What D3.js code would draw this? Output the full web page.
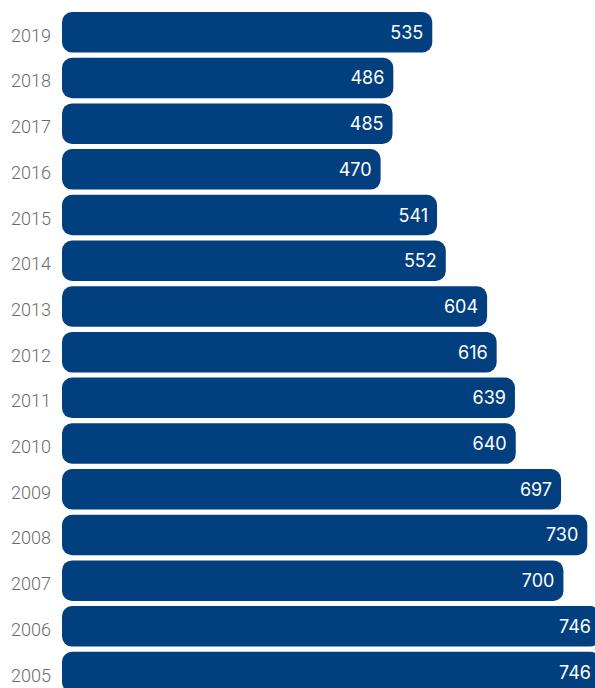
<!DOCTYPE html>
<html>
<head>
<meta charset="utf-8">
<script src="https://cdn.jsdelivr.net/npm/d3@7"></script>
<style>
  html, body { margin: 0; padding: 0; background: #fff; }
  svg { display: block; }
</style>
</head>
<body>
<svg id="chart" width="595" height="688"></svg>
<script>
// Yearly totals, newest first
const years = ["2019","2018","2017","2016","2015","2014","2013","2012","2011","2010","2009","2008","2007","2006","2005"];
const values = [535, 486, 485, 470, 541, 552, 604, 616, 639, 640, 697, 730, 700, 746, 746];

const width = 595, height = 688;
const barLeft = 62;

const svg = d3.select("#chart");

const x = d3.scaleLinear()
  .domain([0, d3.max(values)])
  .range([7, 600]);

const y = d3.scaleBand()
  .domain(years)
  .range([12, 692.3])
  .paddingInner(0.114)
  .paddingOuter(0);

const data = years.map((yr, i) => ({ year: yr, value: values[i] }));

// Rounded bars
svg.append("g")
  .selectAll("rect")
  .data(data)
  .join("rect")
  .attr("x", barLeft)
  .attr("y", d => y(d.year))
  .attr("width", d => x(d.value) - barLeft)
  .attr("height", y.bandwidth())
  .attr("rx", 10)
  .attr("ry", 10)
  .attr("fill", "#023f7f");

// Value labels inside bar ends
svg.append("g")
  .selectAll("text")
  .data(data)
  .join("text")
  .attr("x", d => x(d.value) - 9)
  .attr("y", d => y(d.year) + y.bandwidth() / 2)
  .attr("dy", "0.36em")
  .attr("text-anchor", "end")
  .attr("fill", "#fff")
  .attr("font-family", "Inter, sans-serif")
  .attr("font-weight", 400)
  .attr("font-size", 18)
  .text(d => d.value);

// Year labels on the left
svg.append("g")
  .selectAll("text")
  .data(data)
  .join("text")
  .attr("x", 51)
  .attr("y", d => y(d.year) + y.bandwidth() / 2 + 3)
  .attr("dy", "0.36em")
  .attr("text-anchor", "end")
  .attr("fill", "#6b6b6b")
  .attr("font-family", "Roboto, sans-serif")
  .attr("font-weight", 300)
  .attr("font-size", 18)
  .text(d => d.year);
</script>
</body>
</html>
